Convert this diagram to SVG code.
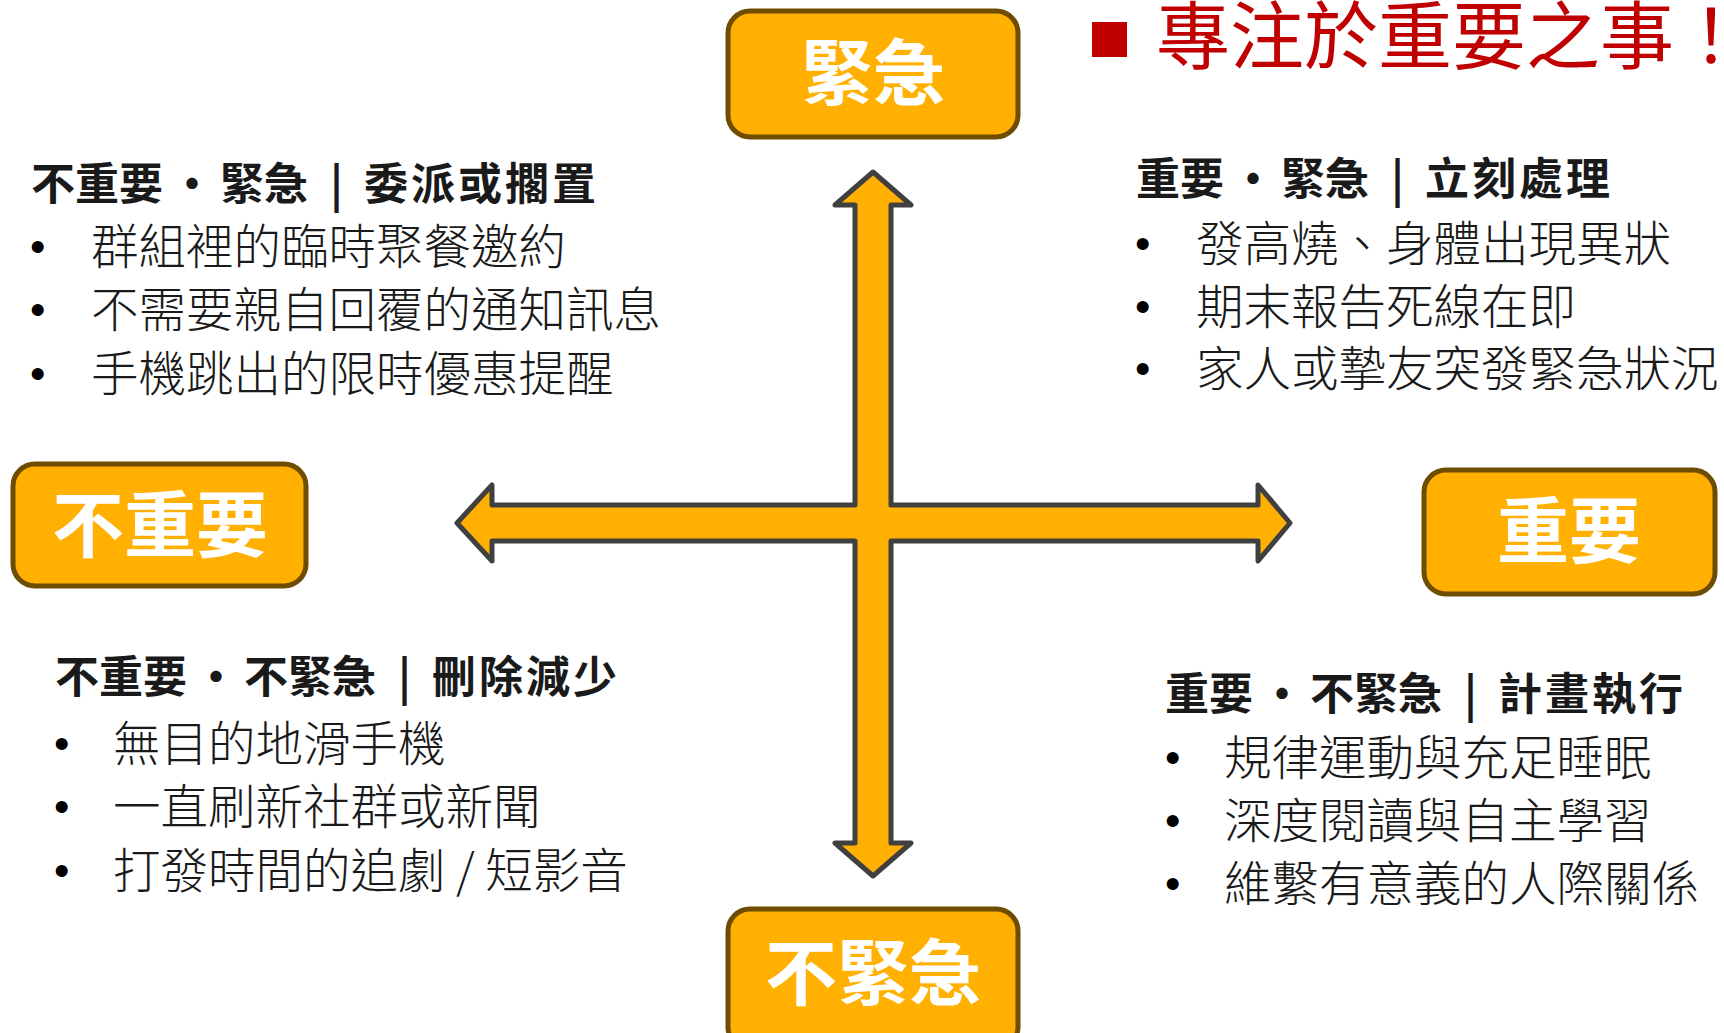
<svg xmlns="http://www.w3.org/2000/svg" width="1724" height="1033" viewBox="0 0 1724 1033">
<style>
.box{fill:#FFB000;stroke:#6E4C00;stroke-width:5}
.boxtxt{font-family:"Noto Sans CJK TC","Noto Sans CJK SC",sans-serif;font-weight:700;fill:#FFFFFF;text-anchor:middle}
.head{font-family:"Noto Sans CJK TC","Noto Sans CJK SC",sans-serif;font-weight:700;font-size:44px;fill:#1A1A1A}
.tail{letter-spacing:3px}
.item{font-family:"Noto Sans CJK TC","Noto Sans CJK SC",sans-serif;font-weight:300;font-size:47.5px;fill:#1A1A1A}
.bul{font-family:"Liberation Sans",sans-serif;font-size:44px;fill:#000}
.title{font-family:"Noto Sans CJK TC","Noto Sans CJK SC",sans-serif;font-weight:400;font-size:74px;fill:#C00000}
</style>
<rect width="1724" height="1033" fill="#FFFFFF"/>
<g id="title">
<rect x="1092" y="22" width="35" height="35" fill="#C00000"/>
<text class="title" x="1156" y="63">專注於重要之事！</text>
</g>
<g id="connectors">
<polygon points="873,172 911,205 891,205 891,505 1258,505 1258,485 1290,523 1258,561 1258,541 891,541 891,843 911,843 873,876 835,843 855,843 855,541 492,541 492,561 457,523 492,485 492,505 855,505 855,205 835,205" fill="#FFB000" stroke="#404040" stroke-width="5" stroke-linejoin="round"/>
</g>
<g id="node-urgent">
<rect class="box" x="728" y="11" width="290" height="126" rx="22"/>
<text class="boxtxt" x="873" y="99" font-size="72">緊急</text>
</g>
<g id="node-not-urgent">
<rect class="box" x="728" y="909" width="290" height="140" rx="22"/>
<text class="boxtxt" x="873" y="999" font-size="72">不緊急</text>
</g>
<g id="node-not-important">
<rect class="box" x="13" y="464" width="293" height="122" rx="22"/>
<text class="boxtxt" x="160" y="551" font-size="72">不重要</text>
</g>
<g id="node-important">
<rect class="box" x="1424" y="470" width="291" height="124" rx="22"/>
<text class="boxtxt" x="1569" y="557" font-size="72">重要</text>
</g>
<g id="q-top-left">
<text class="head" x="31" y="200">不重要<tspan dx="7">・</tspan><tspan dx="6">緊急</tspan><tspan dx="12"> | </tspan><tspan class="tail" dx="11">委派或擱置</tspan></text>
<text class="bul" x="30" y="262">•</text><text class="item" x="91" y="264">群組裡的臨時聚餐邀約</text>
<text class="bul" x="30" y="325">•</text><text class="item" x="91" y="327">不需要親自回覆的通知訊息</text>
<text class="bul" x="30" y="389">•</text><text class="item" x="91" y="391">手機跳出的限時優惠提醒</text>
</g>
<g id="q-top-right">
<text class="head" x="1136" y="195">重要<tspan dx="7">・</tspan><tspan dx="6">緊急</tspan><tspan dx="12"> | </tspan><tspan class="tail" dx="11">立刻處理</tspan></text>
<text class="bul" x="1135" y="259">•</text><text class="item" x="1196" y="261">發高燒、身體出現異狀</text>
<text class="bul" x="1135" y="322">•</text><text class="item" x="1196" y="324">期末報告死線在即</text>
<text class="bul" x="1135" y="384">•</text><text class="item" x="1196" y="386">家人或摯友突發緊急狀況</text>
</g>
<g id="q-bottom-left">
<text class="head" x="55" y="693">不重要<tspan dx="7">・</tspan><tspan dx="6">不緊急</tspan><tspan dx="12"> | </tspan><tspan class="tail" dx="11">刪除減少</tspan></text>
<text class="bul" x="54" y="759">•</text><text class="item" x="113" y="761">無目的地滑手機</text>
<text class="bul" x="54" y="822">•</text><text class="item" x="113" y="824">一直刷新社群或新聞</text>
<text class="bul" x="54" y="886">•</text><text class="item" x="113" y="888">打發時間的追劇 / 短影音</text>
</g>
<g id="q-bottom-right">
<text class="head" x="1165" y="710">重要<tspan dx="7">・</tspan><tspan dx="6">不緊急</tspan><tspan dx="12"> | </tspan><tspan class="tail" dx="11">計畫執行</tspan></text>
<text class="bul" x="1165" y="773">•</text><text class="item" x="1224" y="775">規律運動與充足睡眠</text>
<text class="bul" x="1165" y="836">•</text><text class="item" x="1224" y="838">深度閱讀與自主學習</text>
<text class="bul" x="1165" y="899">•</text><text class="item" x="1224" y="901">維繫有意義的人際關係</text>
</g>
</svg>
